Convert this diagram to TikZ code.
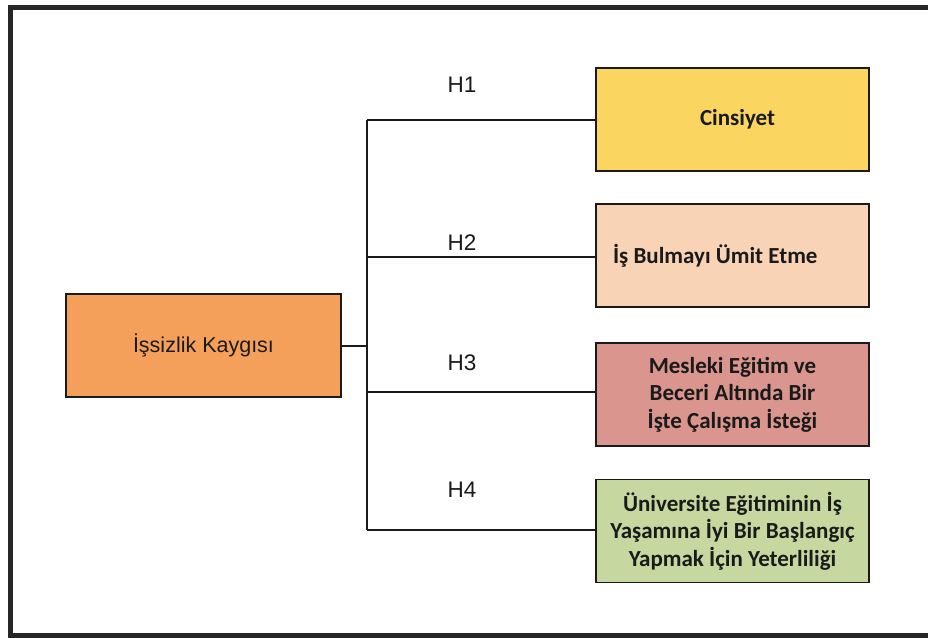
\documentclass[tikz,border=0pt]{standalone}
\usepackage{fontspec}
\setmainfont{Carlito}
\newfontfamily\arialf{Liberation Sans}
\definecolor{framecol}{HTML}{262626}
\definecolor{linecol}{HTML}{1A1A1A}
\definecolor{textcol}{HTML}{1A1A1A}
\definecolor{orangebox}{HTML}{F5A05A}
\definecolor{yellowbox}{HTML}{FAD660}
\definecolor{peachbox}{HTML}{F9D3B6}
\definecolor{rosebox}{HTML}{D9958E}
\definecolor{greenbox}{HTML}{C6D89F}
\tikzset{
  rbox/.style={draw=linecol, line width=1.5pt, minimum width=273pt, minimum height=103pt,
    inner sep=0pt, font=\fontsize{23}{27.5}\selectfont\bfseries, text=textcol, align=center},
  hlabel/.style={font=\arialf\fontsize{22.5}{26}\selectfont, text=textcol, inner sep=0pt},
  conn/.style={draw=linecol, line width=1.5pt}
}
\begin{document}
\begin{tikzpicture}[x=1pt,y=-1pt]
\useasboundingbox (0,0) rectangle (928,637);
\begin{scope}
\clip (0,0) rectangle (928,637);
\draw[framecol, line width=5pt] (940,7.5) -- (10,7.5) -- (10,635) -- (940,635);
\end{scope}

\node[draw=linecol, line width=1.5pt, fill=orangebox, minimum width=275pt, minimum height=103pt,
  inner sep=0pt, font=\arialf\fontsize{21.5}{26}\selectfont, text=textcol] (L) at (203.5,345.5) {İşsizlik Kaygısı};

\node[rbox, fill=yellowbox] (B1) at (732.5,119.5) {\hspace*{10pt}Cinsiyet};
\node[rbox, fill=peachbox] (B2) at (732.5,255.5) {\makebox[239pt][l]{İş Bulmayı Ümit Etme}};
\node[rbox, fill=rosebox] (B3) at (732.5,394.5) {Mesleki Eğitim ve\\Beceri Altında Bir\\İşte Çalışma İsteği};
\node[rbox, fill=greenbox] (B4) at (732.5,531) {Üniversite Eğitiminin İş\\Yaşamına İyi Bir Başlangıç\\Yapmak İçin Yeterliliği};

\coordinate (J) at (367,346);
\coordinate (T1) at (367,120);
\coordinate (T2) at (367,257);
\coordinate (T3) at (367,392);
\coordinate (T4) at (367,530);

\draw[conn] (L.east |- J) -- (J);
\draw[conn] (T1) -- (T4);
\draw[conn] (T1) -- (T1 -| B1.west);
\draw[conn] (T2) -- (T2 -| B2.west);
\draw[conn] (T3) -- (T3 -| B3.west);
\draw[conn] (T4) -- (T4 -| B4.west);

\node[hlabel] (H1) at (462,85) {H1};
\node[hlabel] (H2) at (462,243) {H2};
\node[hlabel] (H3) at (462,363) {H3};
\node[hlabel] (H4) at (462,490) {H4};
\end{tikzpicture}
\end{document}
